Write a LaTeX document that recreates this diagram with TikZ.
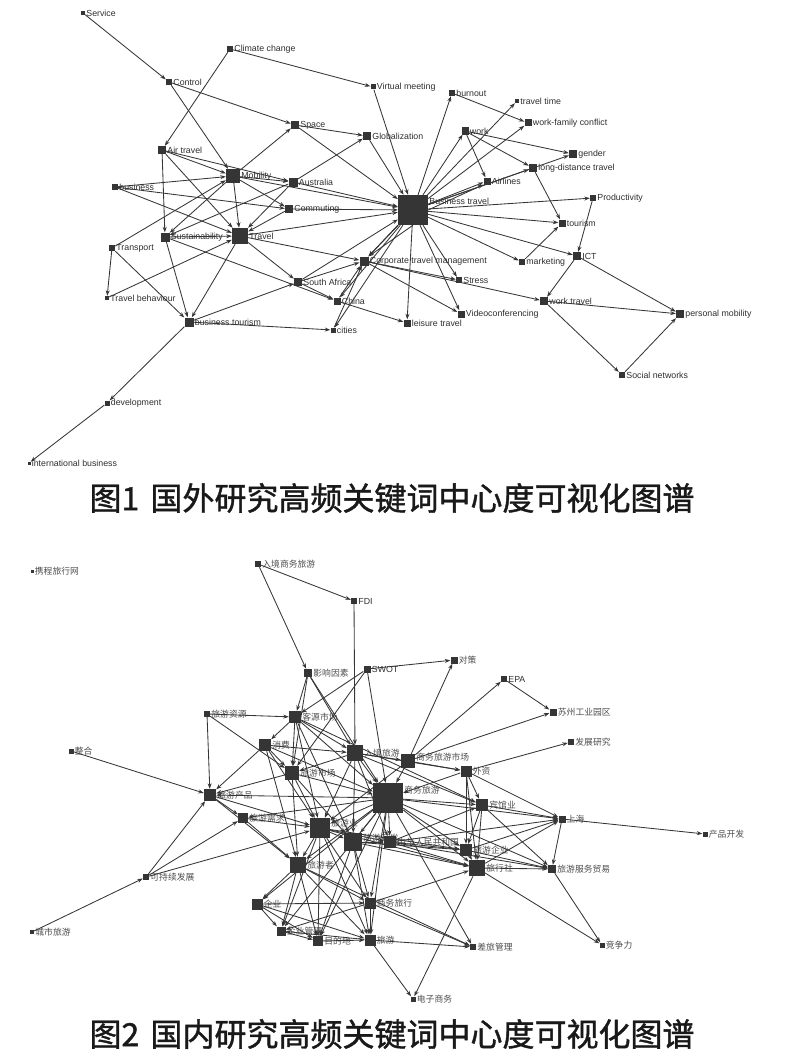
\documentclass[tikz,border=0pt]{standalone}
\usepackage{fontspec}
\setmainfont{Liberation Sans}
\newfontfamily\cjk{Noto Sans CJK SC}
\newfontfamily\cjkcap[FakeBold=1.2]{Noto Sans CJK SC}
\usetikzlibrary{arrows.meta}
\definecolor{ndc}{HTML}{353535}
\definecolor{edc}{HTML}{363636}
\definecolor{labc}{HTML}{2E2E2E}
\tikzset{
  nd/.style={rectangle, fill=ndc, inner sep=0pt, minimum size=#1},
  nd/.default=6pt,
  lab/.style={font=\fontsize{8.8}{9}\selectfont, text=labc, inner sep=1pt},
  zlab/.style={font=\cjk\fontsize{8.8}{9}\selectfont, text=labc!85, inner sep=1pt},
  ed/.style={draw=edc, line width=0.85pt, -{Stealth[length=5.5pt,width=4pt]}},
  capt/.style={font=\cjkcap\fontsize{32}{34}\selectfont, text=black!90, inner sep=0pt},
}
\newcommand\mknode[6][lab]{\node[nd=#5, label={[#1]east:#6}] (#2) at (#3,#4) {};}
\begin{document}
\begin{tikzpicture}[x=1pt,y=-1pt]
\useasboundingbox (0,0) rectangle (786,1062);
% ---------- Figure 1 ----------
\mknode{svc}{83}{13}{4pt}{Service}
\mknode{clim}{230}{49}{6pt}{Climate change}
\mknode{ctrl}{169}{82}{6pt}{Control}
\mknode{virt}{373}{87}{5pt}{Virtual meeting}
\mknode{space}{295}{125}{8pt}{Space}
\mknode{glob}{367}{136}{8pt}{Globalization}
\mknode{air}{162}{150}{8pt}{Air travel}
\mknode{mob}{233}{176}{14pt}{Mobility}
\mknode{aus}{293}{182}{9pt}{Australia}
\mknode{bus}{115}{187}{6pt}{business}
\mknode{comm}{289}{209}{8pt}{Commuting}
\mknode{sust}{165}{237}{9pt}{Sustainability}
\mknode{trav}{240}{236}{16pt}{Travel}
\mknode{trans}{112}{248}{6pt}{Transport}
\mknode{tbeh}{107}{298}{4pt}{Travel behaviour}
\mknode{btour}{189}{322}{9pt}{business tourism}
\mknode{safr}{298}{282}{8pt}{South Africa}
\mknode{china}{337}{301}{7pt}{China}
\mknode{cities}{333}{330}{5pt}{cities}
\mknode{corp}{364}{261}{9pt}{Corporate travel management}
\mknode{dev}{107}{403}{5pt}{development}
\mknode{intl}{29}{463}{3pt}{international business}
\mknode[lab,yshift=9pt]{bt}{413}{210}{30pt}{Business travel}
\mknode{burn}{452}{93}{6pt}{burnout}
\mknode{ttime}{517}{101}{4pt}{travel time}
\mknode{wfc}{528}{123}{7pt}{work-family conflict}
\mknode{work}{465}{131}{7pt}{work}
\mknode{gend}{573}{154}{8pt}{gender}
\mknode{ldt}{533}{168}{8pt}{long-distance travel}
\mknode{airl}{487}{181}{7pt}{Airlines}
\mknode{prod}{593}{198}{6pt}{Productivity}
\mknode{tour}{562}{223}{7pt}{tourism}
\mknode{ict}{577}{256}{8pt}{ICT}
\mknode{mkt}{522}{262}{6pt}{marketing}
\mknode{stress}{459}{280}{6pt}{Stress}
\mknode{wtrav}{544}{301}{8pt}{work travel}
\mknode{pmob}{680}{314}{8pt}{personal mobility}
\mknode{video}{461}{314}{7pt}{Videoconferencing}
\mknode{leis}{407}{323}{7pt}{leisure travel}
\mknode{soc}{622}{375}{6pt}{Social networks}
\foreach \a/\b in {svc/ctrl, ctrl/mob, clim/air, clim/virt, ctrl/space, virt/bt,
  space/glob, space/bt, mob/space, aus/glob, glob/bt, air/mob, air/aus, air/sust,
  air/trav, bus/mob, bus/comm, bus/trav, mob/aus, mob/bt, mob/comm, mob/trav,
  mob/sust, trans/mob, aus/sust, aus/trav, aus/bt, comm/bt, comm/trav, trav/bt,
  sust/trav, sust/btour, sust/china, trav/btour, trav/safr, trav/corp, trans/tbeh,
  trans/btour, tbeh/trav, btour/safr, btour/cities, btour/dev, dev/intl, safr/corp,
  safr/china, safr/bt, china/corp, cities/corp, china/leis, corp/video, corp/stress,
  corp/wtrav, bt/video, bt/stress, bt/leis, bt/mkt, bt/ict, bt/tour, bt/prod,
  mkt/tour, prod/ict, ict/wtrav, ict/pmob, wtrav/pmob, wtrav/soc, soc/pmob,
  bt/burn, bt/work, bt/ttime, bt/wfc, bt/airl, bt/ldt, bt/gend, burn/wfc,
  work/gend, work/ldt, work/airl, ldt/tour, bt/corp, bt/china, bt/cities}
  \draw[ed] (\a) -- (\b);
\draw[ed] (bt.south west) -- (corp);
\draw[ed] (bt.south) -- (corp.north east);
\draw[ed] (bt.east) -- (airl.south west);
\node[capt] (cap1) at (392,498) {图1\hspace{0.35em}国外研究高频关键词中心度可视化图谱};
% ---------- Figure 2 ----------
\mknode[zlab]{xc}{32}{571}{3pt}{携程旅行网}
\mknode[zlab]{rjsw}{258}{564}{6pt}{入境商务旅游}
\mknode[lab]{fdi}{354}{601}{6pt}{FDI}
\mknode[zlab]{yx}{308}{673}{8pt}{影响因素}
\mknode[lab]{swot}{367}{669}{7pt}{SWOT}
\mknode[zlab]{dc}{454}{660}{7pt}{对策}
\mknode[lab]{epa}{504}{679}{6pt}{EPA}
\mknode[zlab]{sz}{553}{712}{7pt}{苏州工业园区}
\mknode[zlab]{fz}{571}{742}{6pt}{发展研究}
\mknode[zlab]{zy}{207}{714}{6pt}{旅游资源}
\mknode[zlab]{ky}{295}{717}{12pt}{客源市场}
\mknode[zlab]{xf}{265}{745}{12pt}{消费}
\mknode[zlab]{zh}{71}{751}{5pt}{整合}
\mknode[zlab]{rj}{355}{753}{16pt}{入境旅游}
\mknode[zlab,yshift=4pt]{swsc}{408}{761}{14pt}{商务旅游市场}
\mknode[zlab]{wz}{466}{771}{11pt}{外资}
\mknode[zlab]{lysc}{292}{773}{14pt}{旅游市场}
\mknode[zlab,yshift=8pt]{swly}{388}{798}{30pt}{商务旅游}
\mknode[zlab]{cp}{210}{795}{12pt}{旅游产品}
\mknode[zlab]{xq}{243}{818}{10pt}{旅游需求}
\mknode[zlab,yshift=5pt]{lyy}{320}{828}{20pt}{旅游业}
\mknode[zlab,yshift=4pt]{kf}{353}{842}{18pt}{旅游开发}
\mknode[zlab]{zg}{390}{842}{12pt}{中华人民共和国}
\mknode[zlab]{bg}{482}{805}{12pt}{宾馆业}
\mknode[zlab]{qy}{466}{850}{12pt}{旅游企业}
\mknode[zlab]{lxs}{477}{868}{16pt}{旅行社}
\mknode[zlab]{lyz}{298}{865}{16pt}{旅游者}
\mknode[zlab]{sh}{562}{819}{7pt}{上海}
\mknode[zlab]{cpkf}{705}{834}{5pt}{产品开发}
\mknode[zlab]{fwmy}{552}{869}{8pt}{旅游服务贸易}
\mknode[zlab]{jzl}{602}{945}{5pt}{竞争力}
\mknode[zlab]{clgl}{473}{947}{6pt}{差旅管理}
\mknode[zlab]{kcx}{146}{877}{6pt}{可持续发展}
\mknode[zlab]{cs}{32}{932}{4pt}{城市旅游}
\mknode[zlab]{qiye}{257}{904}{11pt}{企业}
\mknode[zlab]{qygl}{281}{931}{9pt}{企业管理}
\mknode[zlab]{mdd}{318}{941}{10pt}{目的地}
\mknode[zlab]{ly}{370}{940}{11pt}{旅游}
\mknode[zlab]{swlx}{370}{903}{11pt}{商务旅行}
\mknode[zlab]{dzsw}{413}{999}{5pt}{电子商务}
\foreach \a/\b in {rjsw/fdi, rjsw/yx, fdi/rj, yx/ky, yx/lysc, yx/rj, yx/swly,
  swot/dc, swot/ky, swot/lysc, swot/swly, swsc/dc, swsc/epa, epa/sz, swsc/sz,
  wz/fz, zy/ky, zy/cp, zy/lysc, zh/cp, kcx/cp, kcx/lyy, cs/kcx, sh/cpkf, bg/sh,
  qy/sh, lxs/sh, wz/sh, sh/fwmy, lxs/fwmy, bg/fwmy, qy/fwmy, fwmy/jzl, lxs/jzl,
  ly/clgl, swlx/clgl, swly/clgl, ly/dzsw, lxs/dzsw, swlx/lxs,
  ky/xf, ky/lysc, ky/rj, ky/swly, ky/lyy, ky/kf, ky/bg, xf/lysc, xf/rj, xf/cp,
  xf/lyy, xf/swly, xf/lyz, rj/swsc, rj/swly, rj/lysc, rj/lyy, rj/kf, rj/zg,
  rj/wz, rj/bg, swsc/swly, swsc/wz, swsc/lyy, wz/swly, wz/bg, wz/qy, wz/lxs,
  lysc/swly, lysc/lyy, lysc/cp, lysc/kf, lysc/lyz, swly/cp, swly/xq, swly/lyy,
  swly/kf, swly/zg, swly/bg, swly/qy, swly/lxs, swly/lyz, swly/swlx, swly/ly,
  swly/mdd, swly/qiye, swly/qygl, swly/fwmy, swly/sh, cp/xq, cp/lyy, cp/lyz,
  xq/lyy, xq/lyz, lyy/kf, lyy/zg, lyy/lyz, lyy/swlx, lyy/ly, lyy/mdd, lyy/qygl,
  lyy/qy, lyy/lxs, kf/zg, kf/qy, kf/lxs, kf/swlx, kf/ly, kf/mdd, zg/qy, zg/lxs,
  zg/bg, zg/sh, zg/fwmy, bg/qy, bg/lxs, qy/lxs, lyz/qiye, lyz/qygl, lyz/mdd,
  lyz/ly, lyz/swlx, lyz/clgl, qiye/swlx, qiye/qygl, qiye/mdd, qygl/mdd, mdd/ly,
  swlx/ly, ly/qygl, swlx/qygl, qiye/ly, kcx/xq}
  \draw[ed] (\a) -- (\b);
\node[capt] (cap2) at (392,1034) {图2\hspace{0.35em}国内研究高频关键词中心度可视化图谱};
\end{tikzpicture}
\end{document}
